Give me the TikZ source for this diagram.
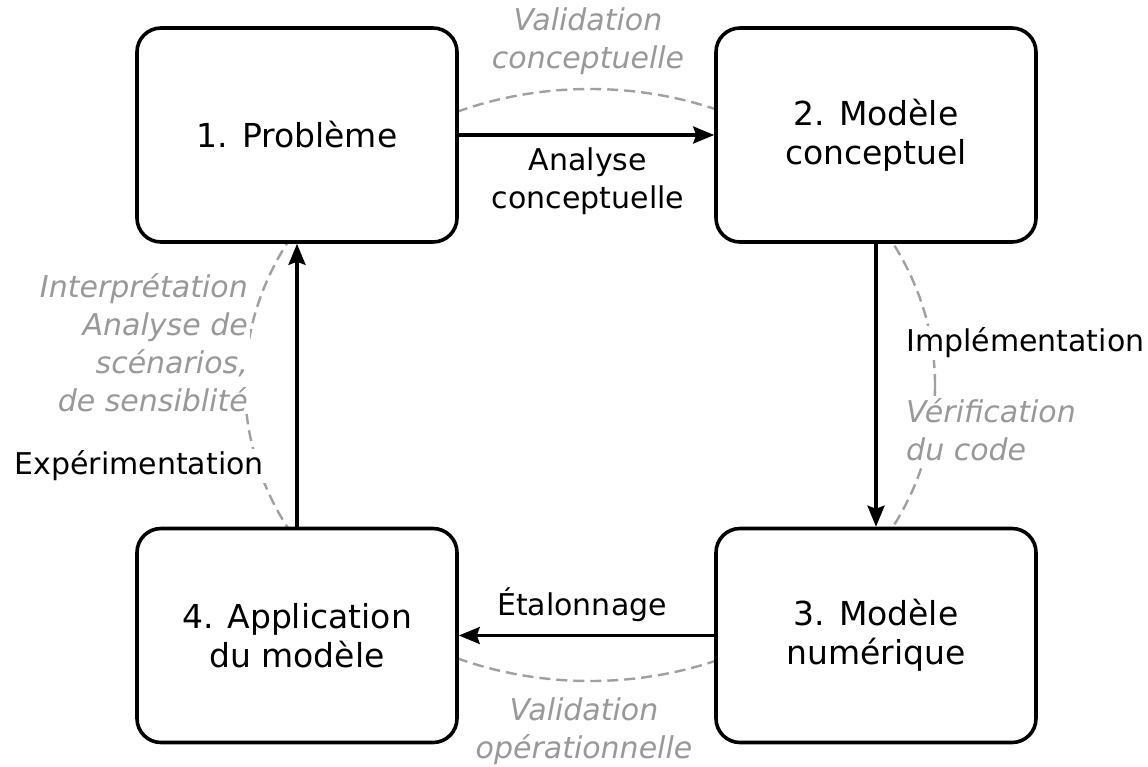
\documentclass[tikz,border=0pt]{standalone}
\usepackage{fontspec}
\setmainfont{DejaVu Sans}
\usetikzlibrary{arrows.meta}
\definecolor{labgray}{HTML}{999999}
\definecolor{cycgray}{HTML}{A0A0A0}
\begin{document}
\begin{tikzpicture}[x=1pt,y=-1pt,
  box/.style={draw,line width=3.6pt,rounded corners=24pt,fill=white,minimum width=320pt,minimum height=214pt,align=center,font=\fontsize{33}{39}\selectfont},
  flow/.style={line width=3.2pt,-{Stealth[length=21pt,width=17pt,inset=3pt]}},
  lab/.style={align=center,font=\fontsize{30}{38}\selectfont,fill=white,inner sep=2pt},
  glab/.style={lab,text=labgray,font=\fontsize{30}{38}\selectfont\itshape},
  cyc/.style={draw=cycgray,line width=2.4pt,dash pattern=on 11pt off 6pt}
]
\useasboundingbox (0,0) rectangle (1148,766);
% cycle ellipse
\draw[cyc] (590,385) ellipse [x radius=345pt, y radius=296pt];
% boxes
\node[box] (b1) at (297,135) {1. Problème};
\node[box] (b2) at (876,135) {2. Modèle\\conceptuel};
\node[box] (b3) at (876,635.5) {3. Modèle\\numérique};
\node[box] (b4) at (297,635.5) {4. Application\\du modèle};
% arrows
\draw[flow] (b1.east) -- (b2.west);
\draw[flow] (b2.south) -- (b3.north);
\draw[flow] (b3.west) -- (b4.east);
\draw[flow] (b4.north) -- (b1.south);
% black labels
\node[lab] (l12) at (588,181) {Analyse\\conceptuelle};
\node[lab,anchor=west] (l23) at (904,343) {Implémentation};
\node[lab] (l34) at (582,605) {Étalonnage};
\node[lab,anchor=east] (l41) at (266,466) {Expérimentation};
% gray labels
\node[glab] (g12) at (588,41) {Validation\\conceptuelle};
\node[glab,align=left,anchor=west] (g23) at (904,430) {Vérification\\du code};
\node[glab] (g34) at (584,731) {Validation\\opérationnelle};
\node[glab,align=right,anchor=east] (g41) at (250,343) {Interprétation\\Analyse de\\scénarios,\\de sensiblité};
\end{tikzpicture}
\end{document}
